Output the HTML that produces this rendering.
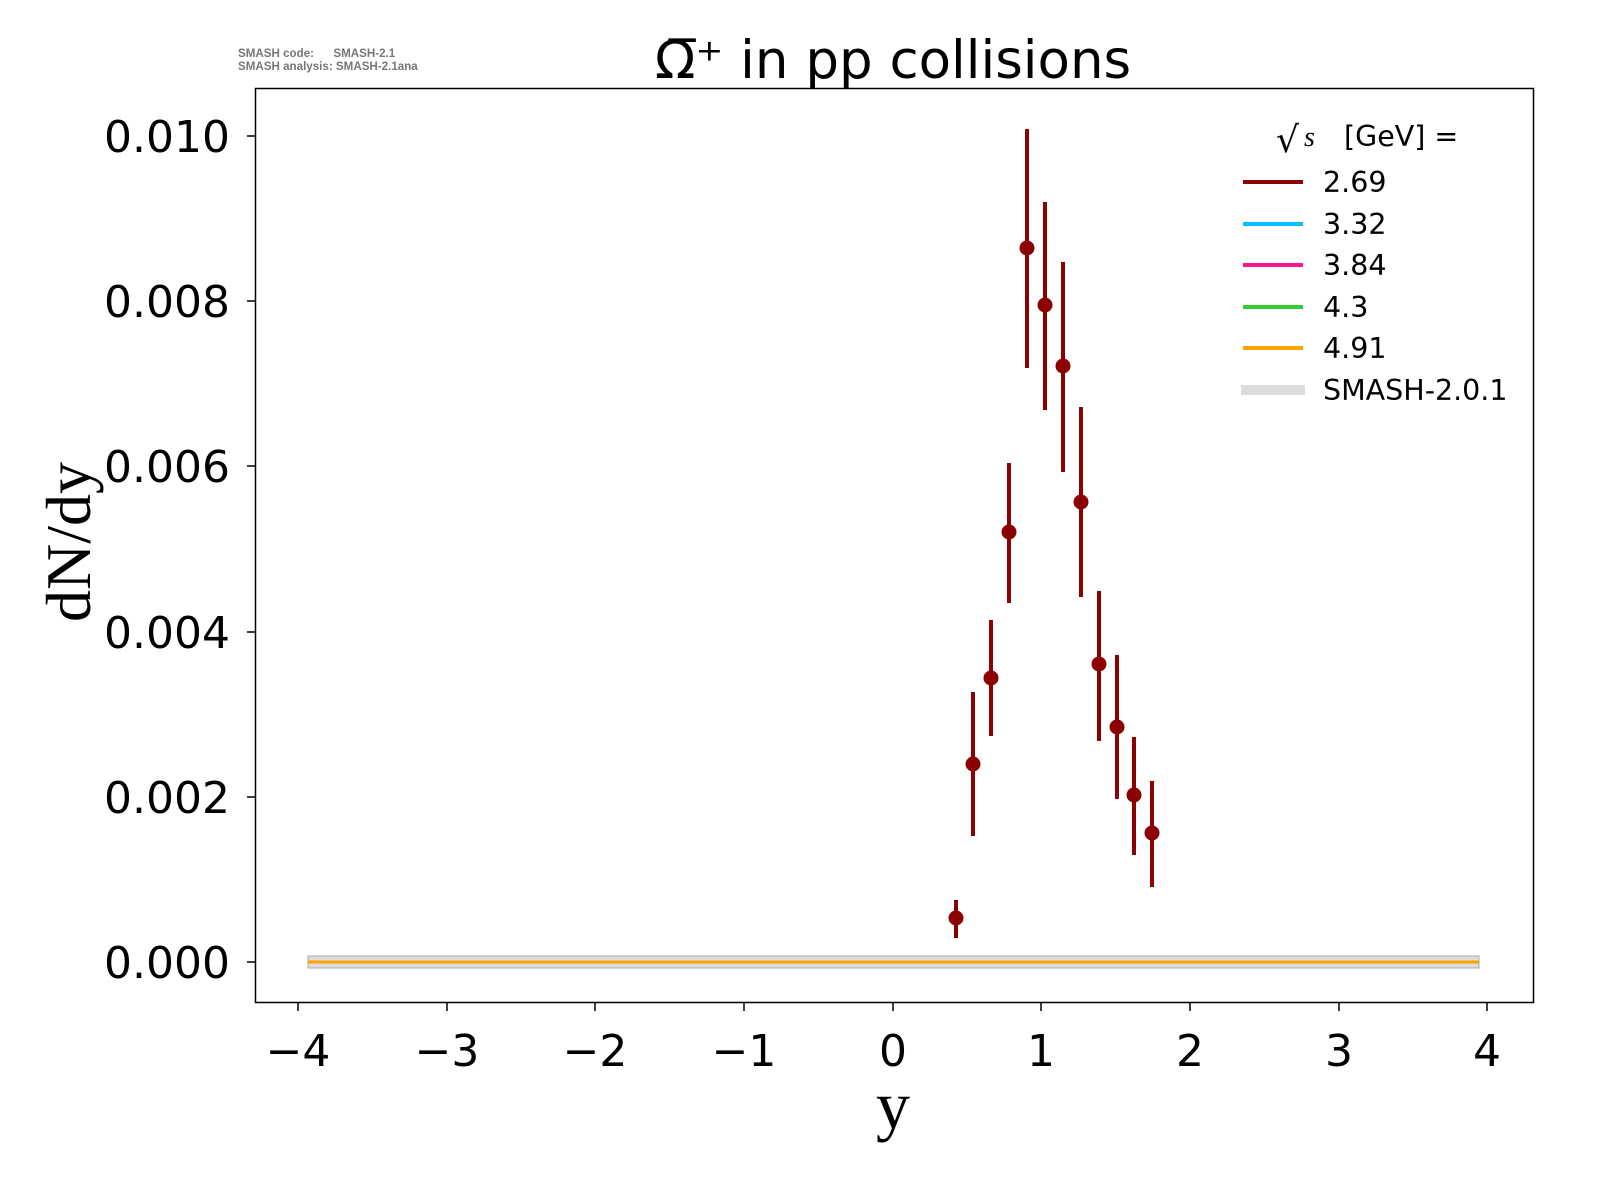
<!DOCTYPE html>
<html><head><meta charset="utf-8"><style>html,body{margin:0;padding:0;background:#fff}</style></head>
<body>
<svg width="1600" height="1200" xmlns="http://www.w3.org/2000/svg" style="display:block">
<rect width="1600" height="1200" fill="#fff"/>
<text x="238" y="57" font-family="Liberation Sans, sans-serif" font-size="11.6" font-weight="bold" fill="#777" xml:space="preserve">SMASH code:      SMASH-2.1</text>
<text x="238" y="70" font-family="Liberation Sans, sans-serif" font-size="11.6" font-weight="bold" fill="#777">SMASH analysis: SMASH-2.1ana</text>
<text x="893" y="78" text-anchor="middle" font-family="DejaVu Sans, sans-serif" font-size="53">Ω̅⁺ in pp collisions</text>
<rect x="255.5" y="88.5" width="1278" height="914" fill="none" stroke="#000" stroke-width="1.5"/>
<rect x="308" y="956" width="1171" height="12" fill="#dcdcdc" stroke="#aaa" stroke-width="1"/>
<line x1="308" y1="962" x2="1479" y2="962" stroke="#ffa500" stroke-width="3"/>
<g stroke="#8b0000" stroke-width="4" fill="#8b0000">
<line x1="956" y1="900" x2="956" y2="938"/><circle cx="956" cy="918" r="5.5"/>
<line x1="973" y1="692" x2="973" y2="836"/><circle cx="973" cy="764" r="5.5"/>
<line x1="991" y1="620" x2="991" y2="736"/><circle cx="991" cy="678" r="5.5"/>
<line x1="1009" y1="463" x2="1009" y2="603"/><circle cx="1009" cy="532" r="5.5"/>
<line x1="1027" y1="129" x2="1027" y2="368"/><circle cx="1027" cy="248" r="5.5"/>
<line x1="1045" y1="202" x2="1045" y2="410"/><circle cx="1045" cy="305" r="5.5"/>
<line x1="1063" y1="262" x2="1063" y2="472"/><circle cx="1063" cy="366" r="5.5"/>
<line x1="1081" y1="407" x2="1081" y2="597"/><circle cx="1081" cy="502" r="5.5"/>
<line x1="1099" y1="591" x2="1099" y2="741"/><circle cx="1099" cy="664" r="5.5"/>
<line x1="1117" y1="655" x2="1117" y2="799"/><circle cx="1117" cy="727" r="5.5"/>
<line x1="1134" y1="737" x2="1134" y2="855"/><circle cx="1134" cy="795" r="5.5"/>
<line x1="1152" y1="781" x2="1152" y2="887"/><circle cx="1152" cy="833" r="5.5"/>
</g>
<g stroke="#000" stroke-width="1.5">
<line x1="298" y1="1003" x2="298" y2="1011"/><line x1="447" y1="1003" x2="447" y2="1011"/>
<line x1="595" y1="1003" x2="595" y2="1011"/><line x1="744" y1="1003" x2="744" y2="1011"/>
<line x1="893" y1="1003" x2="893" y2="1011"/><line x1="1041" y1="1003" x2="1041" y2="1011"/>
<line x1="1190" y1="1003" x2="1190" y2="1011"/><line x1="1339" y1="1003" x2="1339" y2="1011"/>
<line x1="1487" y1="1003" x2="1487" y2="1011"/>
<line x1="247" y1="962" x2="255" y2="962"/><line x1="247" y1="797" x2="255" y2="797"/>
<line x1="247" y1="632" x2="255" y2="632"/><line x1="247" y1="466" x2="255" y2="466"/>
<line x1="247" y1="301" x2="255" y2="301"/><line x1="247" y1="136" x2="255" y2="136"/>
</g>
<g font-family="DejaVu Sans, sans-serif" font-size="44" text-anchor="middle">
<text x="298" y="1066">−4</text><text x="447" y="1066">−3</text><text x="595" y="1066">−2</text>
<text x="744" y="1066">−1</text><text x="893" y="1066">0</text><text x="1041" y="1066">1</text>
<text x="1190" y="1066">2</text><text x="1339" y="1066">3</text><text x="1487" y="1066">4</text>
</g>
<g font-family="DejaVu Sans, sans-serif" font-size="44" text-anchor="end">
<text x="230" y="978">0.000</text><text x="230" y="813">0.002</text><text x="230" y="648">0.004</text>
<text x="230" y="482">0.006</text><text x="230" y="317">0.008</text><text x="230" y="152">0.010</text>
</g>
<text x="893" y="1128" text-anchor="middle" font-family="Liberation Serif, serif" font-size="68">y</text>
<text transform="translate(90,542) rotate(-90)" text-anchor="middle" font-family="Liberation Serif, serif" font-size="64">dN/dy</text>
<text x="1276" y="152" font-family="DejaVu Sans, sans-serif" font-size="36">√</text>
<text x="1304" y="146" font-family="Liberation Serif, serif" font-style="italic" font-size="28">s</text>
<text x="1344" y="146" font-family="DejaVu Sans, sans-serif" font-size="28.5">[GeV] =</text>
<g stroke-width="4">
<line x1="1243" y1="182" x2="1303" y2="182" stroke="#8b0000"/>
<line x1="1243" y1="224" x2="1303" y2="224" stroke="#00bfff"/>
<line x1="1243" y1="265" x2="1303" y2="265" stroke="#ff1493"/>
<line x1="1243" y1="307" x2="1303" y2="307" stroke="#32cd32"/>
<line x1="1243" y1="348" x2="1303" y2="348" stroke="#ffa500"/>
<line x1="1241" y1="390" x2="1305" y2="390" stroke="#dcdcdc" stroke-width="10"/>
</g>
<g font-family="DejaVu Sans, sans-serif" font-size="28.5">
<text x="1323" y="192">2.69</text><text x="1323" y="234">3.32</text><text x="1323" y="275">3.84</text>
<text x="1323" y="317">4.3</text><text x="1323" y="358">4.91</text><text x="1323" y="400">SMASH-2.0.1</text>
</g>
</svg>
</body></html>
